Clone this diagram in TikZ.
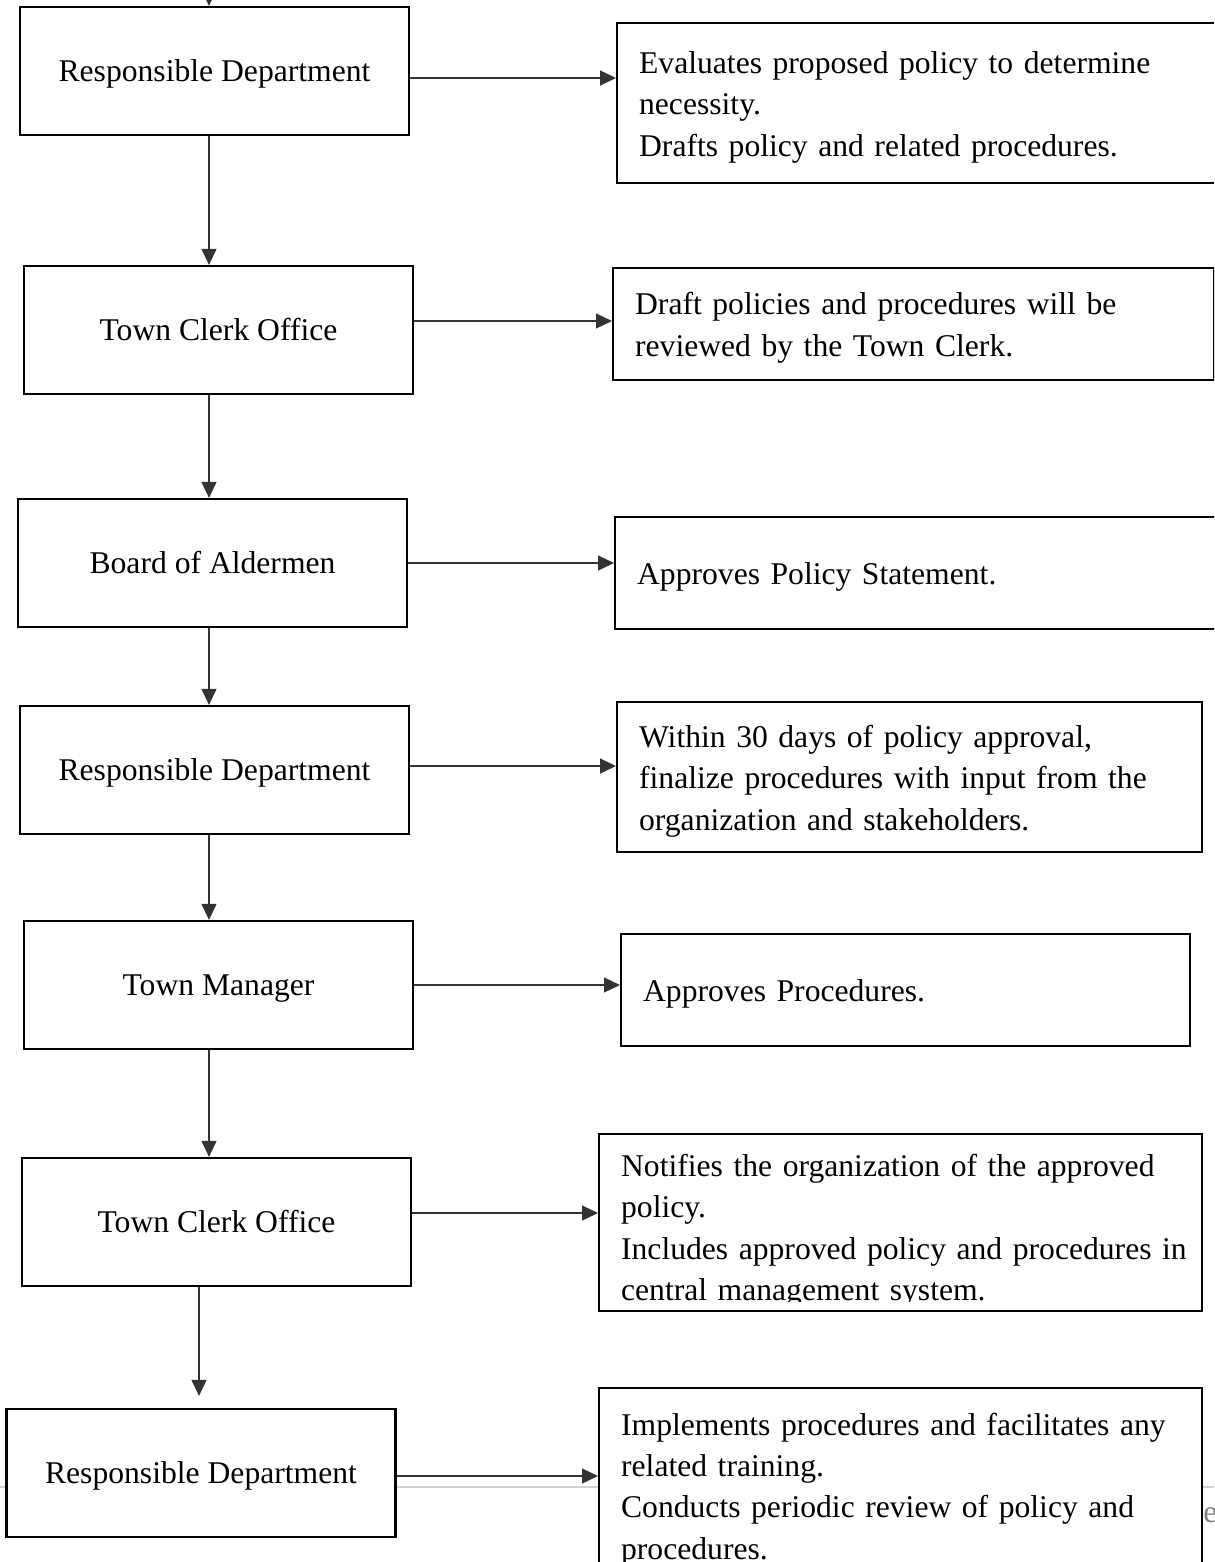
\documentclass[tikz,border=0pt]{standalone}
\usepackage{fontspec}
\setmainfont{Liberation Serif}
\usetikzlibrary{arrows.meta, positioning, calc}

\begin{document}
\begin{tikzpicture}[
    x=0.02cm, y=-0.02cm,
    font=\fontsize{18pt}{23.6pt}\selectfont,
    >={Triangle[length=0.32cm, width=0.3cm]},
    stepbox/.style={draw, line width=1.3pt, fill=white, inner sep=0pt,
        minimum width=7.78cm, minimum height=2.56cm,
        text height=12.4pt, text depth=0pt},
    notebox/.style={draw, line width=1.3pt, fill=white, anchor=north west,
        align=left, inner xsep=0.44cm, inner ysep=0.1cm,
        execute at begin node={\rule{0pt}{17pt}}},
    link/.style={->, line width=0.7pt, draw=linkgray}
]
    % 画布尺寸固定 (1214 x 1562)
    \path[use as bounding box] (0, 0) rectangle (1214, 1562);
    \clip (0, 0) rectangle (1214, 1562);

    \definecolor{linkgray}{HTML}{333333}
    \definecolor{pagegray}{HTML}{D2D2D2}
    \definecolor{markgray}{HTML}{808080}

    % ==========================================
    % 页面分隔线
    % ==========================================
    \draw[pagegray, line width=1.2pt] (0, 1487) -- (1214, 1487);
    \node[anchor=west, inner sep=0pt, text=markgray] (pagemark) at (1203, 1515) {e};

    % ==========================================
    % 左列: 流程步骤
    % ==========================================
    \node[stepbox] (dept1)   at (214.5, 71)  {Responsible Department};
    \node[stepbox] (clerk1)  at (218.5, 330) {Town Clerk Office};
    \node[stepbox] (board)   at (212.5, 563) {Board of Aldermen};
    \node[stepbox] (dept2)   at (214.5, 770) {Responsible Department};
    \node[stepbox] (manager) at (218.5, 985) {Town Manager};
    \node[stepbox] (clerk2)  at (216.5, 1222) {Town Clerk Office};
    \node[stepbox] (dept3)   at (201, 1473)  {Responsible Department};

    % ==========================================
    % 右列: 说明
    % ==========================================
    \node[notebox, text width=11.4cm, minimum height=3.2cm] (evaluate) at (616, 22)
        {Evaluates proposed policy to determine\\necessity.\\Drafts policy and related procedures.};
    \node[notebox, text width=11.14cm, minimum height=2.24cm] (review) at (612, 267)
        {Draft policies and procedures will be\\reviewed by the Town Clerk.};
    \node[notebox, text width=11.44cm, minimum height=2.24cm] (statement) at (614, 516)
        {Approves Policy Statement.};
    \node[notebox, text width=10.82cm, minimum height=3.0cm] (finalize) at (616, 701)
        {Within 30 days of policy approval,\\finalize procedures with input from the\\organization and stakeholders.};
    \node[notebox, text width=10.5cm, minimum height=2.24cm] (procapprove) at (620, 933)
        {Approves Procedures.};
    \node[notebox, text width=11.18cm, minimum height=3.54cm, inner ysep=0pt] (notify) at (598, 1133)
        {\rule{0pt}{22pt}\mbox{Notifies the organization of the approved}\\policy.\\\mbox{Includes approved policy and procedures in}\\central management system.};
    % 最后一行被框底截断
    \fill[white] ([xshift=0.05cm, yshift=0.04cm]notify.south west)
        rectangle ([xshift=-0.05cm, yshift=0.2cm]notify.south east);
    \node[notebox, text width=11.18cm, minimum height=3.9cm] (implement) at (598, 1387)
        {\mbox{Implements procedures and facilitates any}\\related training.\\Conducts periodic review of policy and\\procedures.};

    % ==========================================
    % 竖向连线
    % ==========================================
    \coordinate (entry) at (209, -20);
    \coordinate (spine) at (209, 0);
    \coordinate (lastspine) at (199, 0);

    \draw[link] (entry) -- (dept1.north -| entry);
    \draw[link] (dept1.south -| spine) -- (clerk1.north -| spine);
    \draw[link] (clerk1.south -| spine) -- (board.north -| spine);
    \draw[link] (board.south -| spine) -- (dept2.north -| spine);
    \draw[link] (dept2.south -| spine) -- (manager.north -| spine);
    \draw[link] (manager.south -| spine) -- (clerk2.north -| spine);
    \draw[link] (clerk2.south -| lastspine) -- ($(dept3.north -| lastspine) + (0, -12)$);

    % ==========================================
    % 横向连线
    % ==========================================
    \draw[link] ([yshift=-0.14cm]dept1.east) -- ([yshift=-0.14cm]dept1.east -| evaluate.west);
    \draw[link] ([yshift=0.18cm]clerk1.east) -- ([yshift=0.18cm]clerk1.east -| review.west);
    \draw[link] (board.east) -- (board.east -| statement.west);
    \draw[link] ([yshift=0.08cm]dept2.east) -- ([yshift=0.08cm]dept2.east -| finalize.west);
    \draw[link] (manager.east) -- (manager.east -| procapprove.west);
    \draw[link] ([yshift=0.18cm]clerk2.east) -- ([yshift=0.18cm]clerk2.east -| notify.west);
    \draw[link] ([yshift=-0.06cm]dept3.east) -- ([yshift=-0.06cm]dept3.east -| implement.west);

\end{tikzpicture}
\end{document}
